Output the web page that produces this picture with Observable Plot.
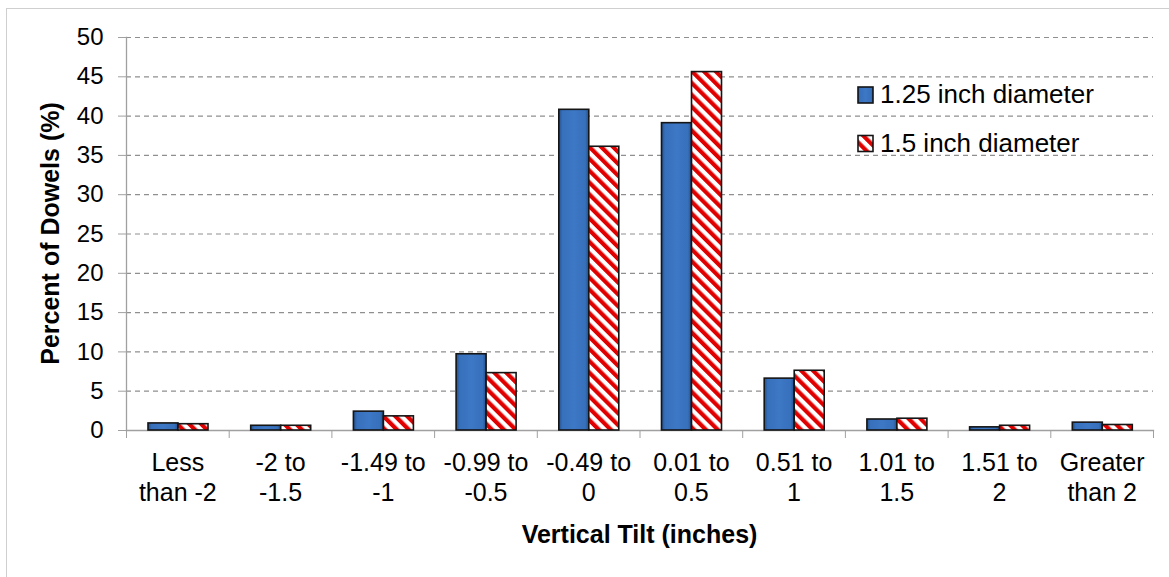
<!DOCTYPE html>
<html>
<head>
<meta charset="utf-8">
<script src="https://cdn.jsdelivr.net/npm/d3@7"></script>
<script src="https://cdn.jsdelivr.net/npm/@observablehq/plot@0.6"></script>
<style>
  html, body { margin: 0; padding: 0; background: #fff; }
  #wrap { position: relative; width: 1169px; height: 577px; overflow: hidden; }
  #border { position: absolute; left: 6px; top: 8px; right: -10px; bottom: -10px;
            border-top: 1.5px solid #cfcfcf; border-left: 1.5px solid #cfcfcf; pointer-events: none; }
  #chart { position: absolute; left: 0; top: 0; }
</style>
</head>
<body>
<div id="wrap"><div id="chart"></div><div id="border"></div></div>
<script>
const categories = ["Less\nthan -2", "-2 to\n-1.5", "-1.49 to\n-1", "-0.99 to\n-0.5", "-0.49 to\n0",
                    "0.01 to\n0.5", "0.51 to\n1", "1.01 to\n1.5", "1.51 to\n2", "Greater\nthan 2"];
const seriesNames = ["1.25 inch diameter", "1.5 inch diameter"];
const dia125 = [0.9, 0.6, 2.4, 9.7, 40.8, 39.1, 6.6, 1.4, 0.4, 1.0];
const dia150 = [0.8, 0.6, 1.8, 7.3, 36.1, 45.6, 7.6, 1.5, 0.6, 0.7];
const yTicks = [0, 5, 10, 15, 20, 25, 30, 35, 40, 45, 50];
const xTitle = "Vertical Tilt (inches)";
const yTitle = "Percent of Dowels (%)";

const rows = categories.map((c, i) => ({i, cat: c, v125: dia125[i], v150: dia150[i]}));
const font = "'Liberation Sans', Arial, sans-serif";

const W = 1169, H = 577;
const mL = 126, mR = 16, mT = 37, mB = 147;
const step = (W - mL - mR) / categories.length;
const barW = 30;
const outer = 22;

const plot = Plot.plot({
  width: W, height: H,
  marginLeft: mL, marginRight: mR, marginTop: mT, marginBottom: mB,
  style: {fontFamily: font, background: "transparent", overflow: "visible"},
  x: {type: "linear", domain: [0, categories.length], label: null},
  y: {domain: [0, 50], label: null},
  marks: [
    Plot.gridY(yTicks, {stroke: "#8f8f8f", strokeOpacity: 1, strokeWidth: 1.2, strokeDasharray: "5,4"}),
    Plot.frame({anchor: "left", stroke: "#a0a0a0", strokeWidth: 1.3}),
    Plot.frame({anchor: "bottom", stroke: "#a0a0a0", strokeWidth: 1.3}),
    Plot.axisY({ticks: yTicks, tickSize: 8, tickPadding: 15, fontSize: 24, stroke: "#a0a0a0", fill: "#000", label: null}),
    Plot.axisX({ticks: d3.range(categories.length + 1), tickSize: 8, tickFormat: () => "", stroke: "#a0a0a0", label: null}),
    Plot.axisX({ticks: d3.range(categories.length).map(i => i + 0.5), tickSize: 0, tickPadding: 19,
                tickFormat: v => categories[Math.floor(v)], fontSize: 25, lineHeight: 1.2, fill: "#000", label: null}),
    Plot.rectY(rows, {x1: "i", x2: d => d.i + 1, y: "v125", insetLeft: outer, insetRight: step - outer - barW,
                      fill: "url(#blueGrad)", stroke: "#151515", strokeWidth: 1.6}),
    Plot.rectY(rows, {x1: "i", x2: d => d.i + 1, y: "v150", insetLeft: outer + barW, insetRight: step - outer - 2 * barW,
                      fill: "url(#redStripes)", stroke: "#151515", strokeWidth: 1.6})
  ]
});

const svg = d3.select(plot);
const defs = svg.insert("defs", ":first-child");
const g = defs.append("linearGradient").attr("id", "blueGrad").attr("x1", 0).attr("x2", 1).attr("y1", 0).attr("y2", 0);
g.append("stop").attr("offset", "0%").attr("stop-color", "#24508c");
g.append("stop").attr("offset", "12%").attr("stop-color", "#3770bb");
g.append("stop").attr("offset", "50%").attr("stop-color", "#3d78c6");
g.append("stop").attr("offset", "88%").attr("stop-color", "#3770bb");
g.append("stop").attr("offset", "100%").attr("stop-color", "#24508c");
const p = defs.append("pattern").attr("id", "redStripes").attr("patternUnits", "userSpaceOnUse")
  .attr("width", 8.4).attr("height", 8.4).attr("patternTransform", "rotate(-45)");
p.append("rect").attr("width", 8.4).attr("height", 8.4).attr("fill", "#fff");
p.append("rect").attr("width", 4.2).attr("height", 8.4).attr("fill", "#e00000");

// axis titles
svg.append("text").attr("x", mL + (W - mL - mR) / 2).attr("y", 543)
  .attr("text-anchor", "middle").attr("font-family", font).attr("font-size", 25).attr("font-weight", "bold")
  .text(xTitle);
svg.append("text").attr("transform", `translate(52,${mT + (H - mT - mB) / 2}) rotate(-90)`)
  .attr("text-anchor", "middle").attr("dominant-baseline", "middle").attr("font-family", font)
  .attr("font-size", 25).attr("font-weight", "bold").text(yTitle);

// legend
const leg = svg.append("g").attr("font-family", font).attr("font-size", 26).attr("text-anchor", "start");
const fills = ["url(#blueGrad)", "url(#redStripes)"];
seriesNames.forEach((name, k) => {
  const yb = 103 + k * 48.5;
  leg.append("rect").attr("x", 858).attr("y", yb - 16).attr("width", 15).attr("height", 16)
    .attr("fill", fills[k]).attr("stroke", "#151515").attr("stroke-width", 1.6);
  leg.append("text").attr("x", 880).attr("y", yb).attr("text-anchor", "start").text(name);
});

document.getElementById("chart").appendChild(plot);
</script>
</body>
</html>
